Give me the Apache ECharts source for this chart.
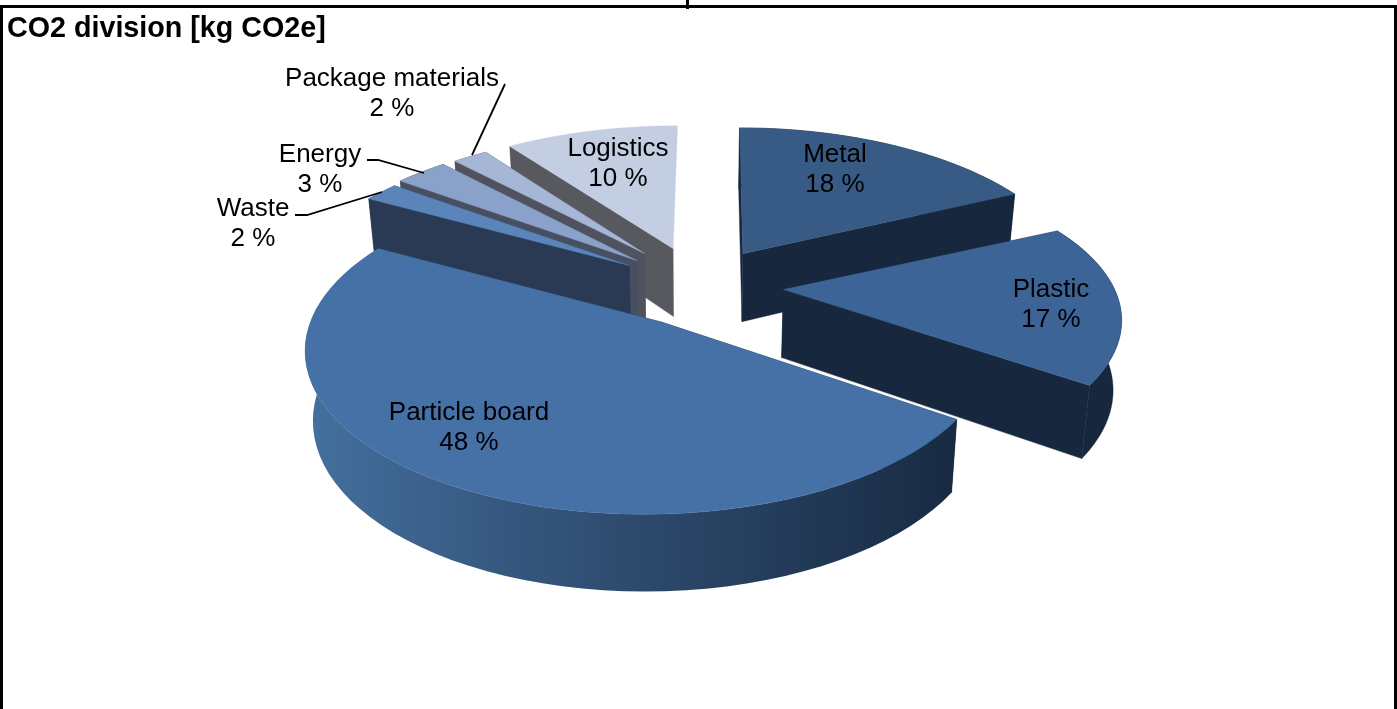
<!DOCTYPE html>
<html>
<head>
<meta charset="utf-8">
<style>html,body{margin:0;padding:0;background:#fff}#c{width:1397px;height:709px}</style>
<script src="https://cdn.jsdelivr.net/npm/echarts@6/dist/echarts.min.js"></script>
</head>
<body>
<div id="c"></div>
<script>
const categories = ['Metal','Plastic','Particle board','Waste','Energy','Package materials','Logistics'];
const shares = [18,17,48,2,3,2,10];
const titleText = 'CO2 division [kg CO2e]';

// --- styling & layout (no data below) ---
const topColors  = ['#385b85','#3c6496','#4571a6','#5b85ba','#8aa1c9','#a6b6d6','#c4cee3'];
const sideColors = ['#17273e','#17273e',null,'#2a3a55','#474f61','#50535e','#57595f'];
const particleGradient = {type:'linear',x:0,y:0,x2:1,y2:0,colorStops:[
  {offset:0,color:'#44709f'},{offset:.3,color:'#36587f'},{offset:.6,color:'#294465'},{offset:1,color:'#182a42'}]};
const C = {x:696,y:285}, R = 335, Ry = 153, persp = 0.216, heightBase = 68, heightPersp = 0.12, bottomShrink = 0.98, explode = 0.25;
const anchorTweak = [[2,1],[6,-1],[-2,-4],[7,1],[5,1],[8,2],[6,3]];
const apexTweak   = [[0,0],[-2,2],[13,9],[-3,0],[-1,0],[-6,-4],[-3,-3]];
const radiusScale = [[.985,1],[.98,.95],[1,1.03],[1,1],[1,1],[1,1],[1,1]];
const angleTrim   = [[0,0],[0,0],[0,-2],[0,0],[0,0],[0,0],[0,0]];
const anchorPersp = [.4,0,.4,.4,.4,.4,.4];
const hideEndWall = [false,false,false,false,false,false,true];
const labelPos = [[835,170],[1051,305],[469,428],[253,224],[320,170],[392,94],[618,164]];
const leaders = {3:[[295,215],[307,215],[382,192]],4:[[367,160],[378,160],[424,173]],5:[[505,84],[472,155]]};

const total = shares.reduce((a,b)=>a+b,0);
let acc = 0;
const slices = shares.map(v=>{const a0=acc/total*2*Math.PI; acc+=v; return {a0,a1:acc/total*2*Math.PI};});
const drawOrder = slices.map((s,i)=>({i,v:-Math.cos((s.a0+s.a1)/2)})).sort((a,b)=>a.v-b.v).map(o=>o.i);

function anchor(i){
  const m=(slices[i].a0+slices[i].a1)/2;
  return {x:C.x+explode*R*Math.sin(m)+anchorTweak[i][0], y:C.y-explode*Ry*Math.cos(m)+anchorTweak[i][1]};
}
function rim(i,th){
  const a=anchor(i),u=Math.sin(th),v=-Math.cos(th),s=1/(1-persp*v);
  return {x:a.x+(a.x-C.x)*(s-1)*anchorPersp[i]+R*radiusScale[i][0]*u*s, y:a.y+Ry*radiusScale[i][1]*v*s, v};
}
function apex(i){const a=anchor(i);return {x:a.x+apexTweak[i][0],y:a.y+apexTweak[i][1],v:0};}
function low(p){return [C.x+(p.x-C.x)*bottomShrink, p.y+heightBase/(1-heightPersp*p.v)];}
function up(p){return [p.x,p.y];}
function arc(i){
  const n=60,out=[],s=slices[i],d=Math.PI/180;
  const a0=s.a0+angleTrim[i][0]*d,a1=s.a1+angleTrim[i][1]*d;
  for(let k=0;k<=n;k++)out.push(rim(i,a0+(a1-a0)*k/n));
  return out;
}

function renderItem(params){
  const i=params.dataIndex, rank=drawOrder.indexOf(i), base=(rank+1)*10, children=[];
  const rimPts=arc(i), ap=apex(i), side=sideColors[i]||particleGradient, wallCol=sideColors[i]||'#182a42';
  const first=rimPts[0], last=rimPts[rimPts.length-1];
  const poly=(pts,fill,z)=>({type:'polygon',silent:true,shape:{points:pts},style:{fill,stroke:typeof fill==='string'?fill:'#2a4565',lineWidth:typeof fill==='string'?0.4:0},z2:base+z});
  children.push(poly([up(ap),up(first),low(first),low(ap)],wallCol,0));
  if(!hideEndWall[i]){
    children.push(poly([up(ap),up(last),low(last),low(ap)],wallCol,1));
    children.push(poly(rimPts.map(up).concat(rimPts.slice().reverse().map(low)),side,2));
  }
  children.push(poly([up(ap)].concat(rimPts.map(up)),topColors[i],3));
  children.push({type:'text',silent:true,z2:500,style:{
    text:categories[i]+'\n'+shares[i]+' %',x:labelPos[i][0],y:labelPos[i][1],fill:'#000',
    font:'26px "Liberation Sans"',lineHeight:30.5,align:'center',verticalAlign:'middle'}});
  if(leaders[i]) children.push({type:'polyline',silent:true,z2:400,shape:{points:leaders[i]},style:{fill:null,stroke:'#000',lineWidth:1.8}});
  return {type:'group',children};
}

const chart=echarts.init(document.getElementById('c'),null,{renderer:'canvas'});
const frame=[[0,5,1397,3],[0,5,3,704],[1394,5,3,704],[686,0,3,9]];
chart.setOption({
  animation:false,
  backgroundColor:'#fff',
  title:{text:titleText,left:2,top:10,textStyle:{fontFamily:'"Liberation Sans"',fontWeight:'bold',fontSize:28.7,color:'#000'}},
  graphic:frame.map(f=>({type:'rect',silent:true,shape:{x:f[0],y:f[1],width:f[2],height:f[3]},style:{fill:'#000'}})),
  series:[{type:'custom',coordinateSystem:'none',renderItem,data:categories.map((n,i)=>({name:n,value:shares[i]})),clip:false}]
});
</script>
</body>
</html>
